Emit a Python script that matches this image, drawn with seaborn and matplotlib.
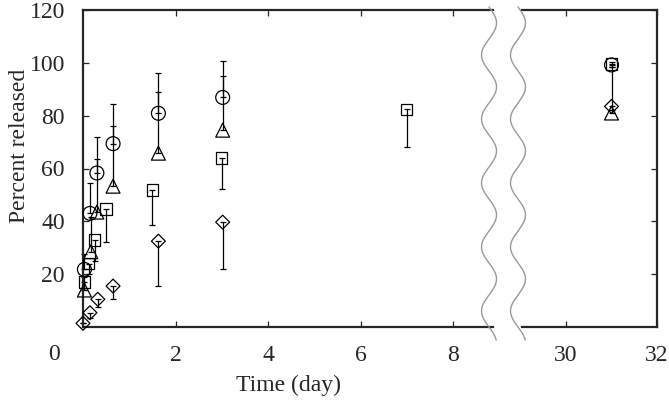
import numpy as np
import pandas as pd
import seaborn as sns
import matplotlib.pyplot as plt
from matplotlib.lines import Line2D

# values (time in days, percent released)
circle_x = [0.03, 0.15, 0.30, 0.65, 1.63, 3.02, 31.0]
circle_y = [21.8, 43.0, 58.3, 69.4, 80.9, 86.9, 99.2]
circle_up = [6.0, 11.4, 13.5, 15.1, 15.1, 13.7, 1.2]

triangle_x = [0.03, 0.17, 0.30, 0.65, 1.63, 3.02, 31.0]
triangle_y = [14.0, 28.5, 43.5, 53.3, 65.8, 74.5, 81.0]
triangle_up = [5.0, 13.0, 20.1, 22.7, 23.0, 20.7, 17.5]

square_x = [0.03, 0.12, 0.25, 0.50, 1.50, 3.00, 7.00, 31.0]
square_y = [17.1, 24.0, 32.9, 44.6, 51.8, 63.9, 82.4, 99.5]
square_lo = [3.0, 4.0, 8.0, 12.4, 13.3, 11.7, 14.3, 1.2]

diamond_x = [0.0, 0.15, 0.32, 0.65, 1.63, 3.02, 31.0]
diamond_y = [1.4, 5.4, 10.5, 15.5, 32.5, 39.7, 83.5]
diamond_lo = [0.0, 2.0, 3.0, 5.0, 17.0, 17.7, 1.5]

y_ticks = [20, 40, 60, 80, 100, 120]

sns.set_style("ticks")
plt.rcParams["font.family"] = ["Liberation Serif", "DejaVu Serif"]

series = [
    ("o", 100, circle_x, circle_y, [0] * len(circle_y), circle_up),
    ("^", 100, triangle_x, triangle_y, [0] * len(triangle_y), triangle_up),
    ("s", 68, square_x, square_y, square_lo, [0] * len(square_y)),
    ("D", 50, diamond_x, diamond_y, diamond_lo, [0] * len(diamond_y)),
]

fig = plt.figure(figsize=(6.69, 4.0), dpi=100)
W, H = 669, 400
ax1 = fig.add_axes([83 / W, 73 / H, 410 / W, 317 / H])
ax2 = fig.add_axes([522 / W, 73 / H, 135 / W, 317 / H])

for marker, size, xs, ys, lo, up in series:
    df = pd.DataFrame({"x": xs, "y": ys, "lo": lo, "up": up})
    for ax, part in [(ax1, df[df.x < 10]), (ax2, df[df.x > 20])]:
        ax.errorbar(part.x, part.y, yerr=[part.lo, part.up], fmt="none",
                    ecolor="black", elinewidth=0.9, capsize=2.5, capthick=0.9,
                    clip_on=False)
        sns.scatterplot(data=part, x="x", y="y", marker=marker, s=size,
                        facecolors="none", edgecolor="black", linewidth=0.9,
                        ax=ax, clip_on=False, zorder=3)

ax1.set_xlim(0, 410 / 46.25)
ax2.set_xlim(30 - 44 / 45.5, 32)
for ax in (ax1, ax2):
    ax.set_ylim(0, 120)
    ax.set_yticks(y_ticks)
    ax.tick_params(direction="in", length=4, width=0.9, labelsize=17, pad=13)
    for s in ax.spines.values():
        s.set_linewidth(1.6)
    ax.set_xlabel("")
    ax.set_ylabel("")

ax1.set_xticks([2, 4, 6, 8])
ax2.set_xticks([30, 32])
ax1.spines["right"].set_visible(False)
ax2.spines["left"].set_visible(False)
ax1.tick_params(top=True, right=False)
ax2.tick_params(top=True, left=False, right=True, labelleft=False)

ax1.set_xlabel("Time (day)", fontsize=17)
ax1.set_ylabel("Percent released", fontsize=17)
ax1.yaxis.set_label_coords(-0.13, 0.57)
ax1.xaxis.set_label_coords(0.5, -0.15)
ax1.annotate("0", xy=(0, 0), xytext=(-21, -20), textcoords="offset points",
             ha="center", va="center", fontsize=17, annotation_clip=False)

# wavy break marks
yy = np.linspace(7, 340, 400)
for cx in (489, 518):
    xx = cx + 7.5 * np.sin(2 * np.pi * (yy - 7) / 64)
    fig.add_artist(Line2D(xx / W, 1 - yy / H, color="#999999", lw=1.0,
                          transform=fig.transFigure))

fig.savefig("out.png", dpi=100)
